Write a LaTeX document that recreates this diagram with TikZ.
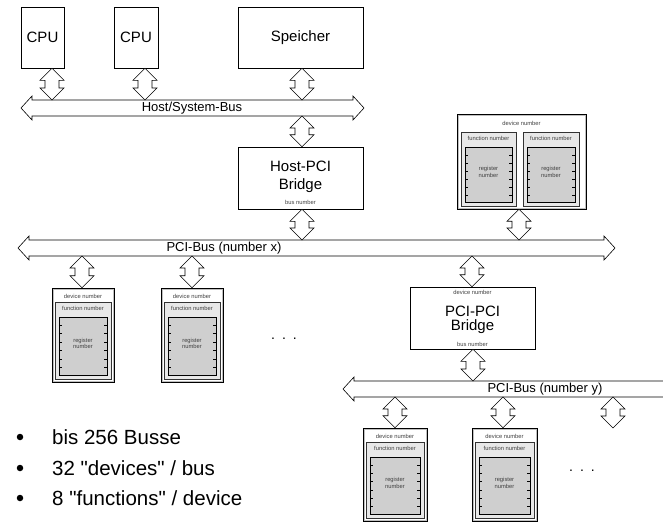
\documentclass[tikz,border=0pt]{standalone}
\usepackage{fontspec}
\setmainfont{Liberation Sans}[Ligatures=TeXOff]
\usetikzlibrary{calc,fit}
\tikzset{
  blockarrow/.style={draw=black, fill=white, line width=0.6pt, line join=miter},
  plainbox/.style={draw=black, fill=white, line width=0.6pt, inner sep=0pt},
  bigtext/.style={font=\fontsize{15}{18}\selectfont, align=center, inner sep=0pt},
  tinytext/.style={font=\fontsize{5.8}{6.4}\selectfont, text=black!75, inner sep=0pt, align=center},
  buslabel/.style={font=\fontsize{13}{15}\selectfont, inner sep=0pt},
  devouter/.style={draw=black, fill=white, line width=0.5pt, inner sep=0pt},
  funcbox/.style={draw=black!80, fill=black!9, line width=0.5pt, inner sep=0pt},
  regbox/.style={draw=black, fill=black!19, line width=0.5pt, inner sep=0pt},
  innerline/.style={draw=black!25, line width=0.4pt},
  bullettext/.style={font=\fontsize{20.5}{24}\selectfont, anchor=west, inner sep=0pt},
  bulletdot/.style={circle, fill=black, inner sep=0pt, minimum size=6.5pt},
}
% box node given by its corners
\newcommand\boxat[6]{\node[#1, fit={(#3,#4) (#5,#6)}] (#2) {};}
% vertical double block arrow: x, upper end, lower end
\newcommand\vdarrow[3]{%
  \draw[blockarrow] let \p1=(#2), \p2=(#3) in
    (#1pt,\y1) -- (#1pt+12pt,\y1-12pt) -- (#1pt+7pt,\y1-12pt) -- (#1pt+7pt,\y2+12pt)
    -- (#1pt+12pt,\y2+12pt) -- (#1pt,\y2) -- (#1pt-12pt,\y2+12pt) -- (#1pt-7pt,\y2+12pt)
    -- (#1pt-7pt,\y1-12pt) -- (#1pt-12pt,\y1-12pt) -- cycle;}
% horizontal bus: left tip, right tip
\newcommand\hbus[2]{%
  \draw[blockarrow] let \p1=(#1), \p2=(#2) in
    (\x1,\y1) -- (\x1+11pt,\y1+12pt) -- (\x1+11pt,\y1+8pt) -- (\x2-11pt,\y1+8pt)
    -- (\x2-11pt,\y1+12pt) -- (\x2,\y1) -- (\x2-11pt,\y1-12pt) -- (\x2-11pt,\y1-8pt)
    -- (\x1+11pt,\y1-8pt) -- (\x1+11pt,\y1-12pt) -- cycle;}
% function box with register box
\newcommand\funcunit[5]{%
  \boxat{funcbox}{#1}{#2}{#3}{#4}{#5}
  \node[tinytext, anchor=north] (#1t) at ($(#1.north)+(0,4)$) {function number};
  \boxat{regbox}{#1r}{#2+4}{#3+15}{#4-4}{#5-3.5}
  \foreach \k in {1,...,6}{
    \draw[line width=0.4pt] ($(#1r.north west)!\k/7!(#1r.south west)$) -- ++(3,0);
    \draw[line width=0.4pt] ($(#1r.north east)!\k/7!(#1r.south east)$) -- ++(-3,0);}
  \node[tinytext] (#1rt) at ($(#1r.center)+(0,-3)$) {register\\number};
}
% device with one function
\newcommand\device[5]{%
  \boxat{devouter}{#1}{#2}{#3}{#4}{#5}
  \draw[innerline] ($(#1.north west)+(1.2,1.2)$) rectangle ($(#1.south east)+(-1.2,-1.2)$);
  \node[tinytext] (#1t) at ($(#1.north)+(0,8.5)$) {device number};
  \funcunit{#1f}{#2+3}{#3+14}{#4-3}{#5-3}
}
\begin{document}
\begin{tikzpicture}[x=1pt,y=-1pt]
\useasboundingbox (0,0) rectangle (663,522);
\clip (0,0) rectangle (663,522);

% top boxes
\boxat{plainbox}{cpu1}{21}{7}{64}{68}
\node[bigtext] (cpu1t) at (cpu1) {CPU};
\boxat{plainbox}{cpu2}{114}{7}{158}{68}
\node[bigtext] (cpu2t) at (cpu2) {CPU};
\boxat{plainbox}{mem}{238}{7}{363}{68}
\node[bigtext] (memt) at (mem) {Speicher};

% host bus
\coordinate (hostL) at (21,108);
\coordinate (hostR) at (364,108);
\coordinate (hostT) at (0,100);
\coordinate (hostB) at (0,116);
\hbus{hostL}{hostR}
\node[buslabel] (hostlab) at (192,108) {Host/System-Bus};

\vdarrow{52}{cpu1.south}{hostT}
\vdarrow{145}{cpu2.south}{hostT}
\vdarrow{302}{mem.south}{hostT}

% Host-PCI bridge
\boxat{plainbox}{hpb}{238}{147}{363}{209}
\node[bigtext] (hpbt) at ($(hpb.center)+(0,-1)$) {Host-PCI\\Bridge};
\node[tinytext] (hpbbus) at ($(hpb.south)+(0,-7)$) {bus number};
\vdarrow{302}{hostB}{hpb.north}

% PCI bus x
\coordinate (pxL) at (18,248);
\coordinate (pxR) at (615,248);
\coordinate (pxT) at (0,240);
\coordinate (pxB) at (0,256);
\hbus{pxL}{pxR}
\node[buslabel] (pxlab) at (224,248) {PCI-Bus (number x)};
\vdarrow{302}{hpb.south}{pxT}

% top-right device with two functions
\boxat{devouter}{dtr}{457}{114}{586}{209}
\draw[innerline] ($(dtr.north west)+(1.2,1.2)$) rectangle ($(dtr.south east)+(-1.2,-1.2)$);
\node[tinytext] (dtrt) at ($(dtr.north)+(0,10)$) {device number};
\funcunit{dtrf1}{461}{132}{516}{206}
\funcunit{dtrf2}{523}{132}{579}{206}
\vdarrow{519}{dtr.south}{pxT}

% left devices
\device{d1}{52}{288}{114}{382}
\device{d2}{161}{288}{223}{382}
\vdarrow{82}{pxB}{d1.north}
\vdarrow{192}{pxB}{d2.north}
\node[font=\fontsize{14}{16}\selectfont] (dots1) at (284,339) {.\,\,\,.\,\,\,.};

% PCI-PCI bridge
\boxat{plainbox}{ppb}{410}{287}{535}{349}
\node[tinytext] (ppbdev) at ($(ppb.north)+(0,6)$) {device number};
\node[bigtext, font=\fontsize{15}{14}\selectfont] (ppbt) at ($(ppb.center)+(0,2)$) {PCI-PCI\\Bridge};
\node[tinytext] (ppbbus) at ($(ppb.south)+(0,-5)$) {bus number};
\vdarrow{472}{pxB}{ppb.north}

% PCI bus y
\coordinate (pyL) at (343,389);
\coordinate (pyR) at (700,389);
\coordinate (pyT) at (0,381);
\coordinate (pyB) at (0,397);
\hbus{pyL}{pyR}
\node[buslabel] (pylab) at (545,389) {PCI-Bus (number y)};
\vdarrow{473}{ppb.south}{pyT}

% bottom devices
\device{d3}{363}{428}{427}{521}
\device{d4}{472}{428}{537}{521}
\coordinate (d5) at (613,428);
\vdarrow{395}{pyB}{d3.north}
\vdarrow{503}{pyB}{d4.north}
\vdarrow{613}{pyB}{d5}
\node[font=\fontsize{14}{16}\selectfont] (dots2) at (582,471) {.\,\,\,.\,\,\,.};

% bullets
\node[bulletdot] (b1) at (20,437) {};
\node[bullettext] (t1) at (52,437) {bis 256 Busse};
\node[bulletdot] (b2) at (20,468) {};
\node[bullettext] (t2) at (52,468) {32 "devices" / bus};
\node[bulletdot] (b3) at (20,498) {};
\node[bullettext] (t3) at (52,498) {8 "functions" / device};
\end{tikzpicture}
\end{document}
